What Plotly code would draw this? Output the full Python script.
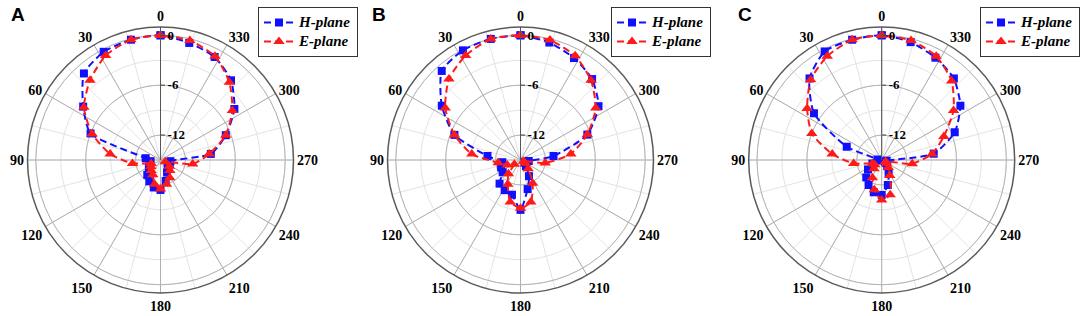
import plotly.graph_objects as go

# ---------------- data ----------------
ANGLES = [0, 13.8, 27.7, 41.5, 55.4, 69.2, 83.1, 96.9, 110.8, 124.6, 138.5, 152.3, 166.2,
          180, 193.8, 207.7, 221.5, 235.4, 249.2, 263.1, 276.9, 290.8, 304.6, 318.5,
          332.3, 346.2, 360]

A_H = [0, -0.1, -0.3, -1.1, -3.7, -6.0, -13.2, -13.8, -13.6, -13.3, -12.6, -12.1, -11.6,
       -11.4, -12.4, -13.3, -13.7, -13.8, -13.8, -13.8, -8.9, -6.6, -4.2, -2.2, -1.0, -0.5, 0]
A_E = [0, -0.1, -0.8, -2.2, -3.8, -6.2, -8.9, -11.6, -13.8, -13.6, -13.3, -13.0, -12.0,
       -11.5, -12.0, -12.6, -13.3, -13.7, -14.4, -11.1, -9.1, -6.6, -4.5, -2.5, -0.9, -0.2, 0]

B_H = [0, 0, -0.1, -0.7, -3.5, -6.5, -11.0, -12.8, -12.5, -12.4, -11.2, -10.9, -10.7,
       -9.0, -11.4, -12.8, -14.0, -14.4, -14.4, -14.0, -11.0, -6.4, -3.6, -2.0, -1.15, -0.45, 0]
B_E = [0, 0, -0.8, -2.0, -4.0, -6.5, -9.1, -12.3, -13.3, -14.1, -12.8, -11.7, -9.8,
       -9.2, -9.8, -11.85, -13.6, -14.3, -14.6, -12.0, -8.9, -6.4, -4.0, -2.2, -0.85, -0.15, 0]

C_H = [0, -0.1, -0.25, -1.9, -5.1, -10.5, -14.5, -14.5, -13.8, -13.0, -12.2, -11.6, -11.0,
       -10.8, -11.9, -13.2, -14.0, -14.4, -14.6, -14.4, -8.7, -5.6, -3.5, -1.9, -1.1, -0.4, 0]
C_E = [0, -0.1, -0.9, -2.1, -4.1, -6.0, -9.0, -11.6, -13.8, -14.0, -13.6, -12.6, -11.3,
       -10.2, -10.7, -12.9, -13.8, -14.3, -14.5, -11.3, -8.9, -7.0, -4.5, -2.3, -0.9, -0.2, 0]

PANELS = ["A", "B", "C"]
SERIES_NAMES = ["H-plane", "E-plane"]
ANG_TICKS = [0, 30, 60, 90, 120, 150, 180, 210, 240, 270, 300, 330]
ANG_LABELS = ["0", "30", "60", "90", "120", "150", "180", "210", "240", "270", "300", "330"]
ANG_MINOR = [0, 15, 30, 45, 60, 75, 90, 105, 120, 135, 150, 165, 180, 195, 210, 225,
             240, 255, 270, 285, 300, 315, 330, 345]
RAD_TICKS = [-12, -6, 0]
RAD_LABELS = ["-12", "-6", "0"]
RAD_MINOR = [-12, -9, -6, -3, 0]
RAD_RANGE = [-15, 1]

DATA = [(A_H, A_E), (B_H, B_E), (C_H, C_E)]

# ---------------- styling ----------------
W, H = 1084, 316
BLUE = "#1010ff"
RED = "#ff1a1a"
SERIF = "Liberation Serif, Times New Roman, serif"
centers_x = [160.5, 520.5, 881.7]
center_y = 160
R = 133
legend_x = [258, 611, 980]
letter_x = [9, 370, 736]

fig = go.Figure()
layout = dict(width=W, height=H, margin=dict(l=0, r=0, t=0, b=0),
              paper_bgcolor="white", showlegend=True)
annotations = []

for i, (hv, ev) in enumerate(DATA):
    cx = centers_x[i]
    dom_x = [(cx - R) / W, (cx + R) / W]
    dom_y = [1 - (center_y + R) / H, 1 - (center_y - R) / H]
    minor_key = "polar" if i == 0 else f"polar{2 * i + 1}"
    major_key = f"polar{2 * i + 2}"
    leg_key = "legend" if i == 0 else f"legend{i + 1}"

    # background polar: light minor grid
    layout[minor_key] = dict(
        domain=dict(x=dom_x, y=dom_y),
        bgcolor="white",
        radialaxis=dict(range=RAD_RANGE, tickvals=RAD_MINOR, showticklabels=False,
                        ticks="", showline=False, gridcolor="#e3e3e3", gridwidth=1),
        angularaxis=dict(rotation=90, direction="counterclockwise", tickvals=ANG_MINOR,
                         showticklabels=False, ticks="", showline=False,
                         gridcolor="#e3e3e3", gridwidth=1),
    )
    # foreground polar: major grid, labels, data
    layout[major_key] = dict(
        domain=dict(x=dom_x, y=dom_y),
        bgcolor="rgba(0,0,0,0)",
        radialaxis=dict(range=RAD_RANGE, tickvals=RAD_TICKS, ticktext=RAD_LABELS,
                        angle=90, tickangle=90, side="clockwise",
                        ticks="outside", ticklen=4, tickcolor="#444",
                        showline=True, linecolor="#555", linewidth=1,
                        gridcolor="#b4b4b4", gridwidth=1,
                        tickfont=dict(family=SERIF, size=13, color="black", weight="bold")),
        angularaxis=dict(rotation=90, direction="counterclockwise", tickvals=ANG_TICKS,
                         ticktext=ANG_LABELS, ticks="", showline=True,
                         linecolor="#5a5a5a", linewidth=1.5, gridcolor="#b0b0b0",
                         gridwidth=1,
                         tickfont=dict(family=SERIF, size=14, color="black", weight="bold")),
    )
    layout[leg_key] = dict(
        x=legend_x[i] / W, y=1 - 7 / H, xanchor="left", yanchor="top",
        bgcolor="white", bordercolor="#333", borderwidth=1,
        font=dict(family=SERIF, size=11, color="black", weight="bold", style="italic"),
        tracegroupgap=0, itemwidth=30,
    )

    # dummy trace so the background polar is drawn
    fig.add_trace(go.Scatterpolar(r=[None], theta=[None], subplot=minor_key,
                                  showlegend=False, hoverinfo="skip"))

    for vals, name, color, sym, msize in [
        (hv, SERIES_NAMES[0], BLUE, "square", 8),
        (ev, SERIES_NAMES[1], RED, "triangle-up", 10),
    ]:
        fig.add_trace(go.Scatterpolar(
            r=vals, theta=ANGLES, name=f'<span style="font-size:15px">{name}</span>',
            subplot=major_key, legend=leg_key,
            mode="lines+markers",
            line=dict(color=color, width=2, dash="7px,4px", shape="spline", smoothing=0.6),
            marker=dict(symbol=sym, size=msize, color=color),
        ))

    annotations.append(dict(text=f"<b>{PANELS[i]}</b>", x=letter_x[i] / W, y=1 - 2 / H,
                            xref="paper", yref="paper", xanchor="left", yanchor="top",
                            showarrow=False,
                            font=dict(family="Liberation Sans, Arial, sans-serif",
                                      size=19, color="black")))

layout["annotations"] = annotations
fig.update_layout(**layout)
fig.write_html(
    "out.html",
    config={"displayModeBar": False},
    post_script="document.body.style.margin='0';document.body.style.overflow='hidden';",
)
